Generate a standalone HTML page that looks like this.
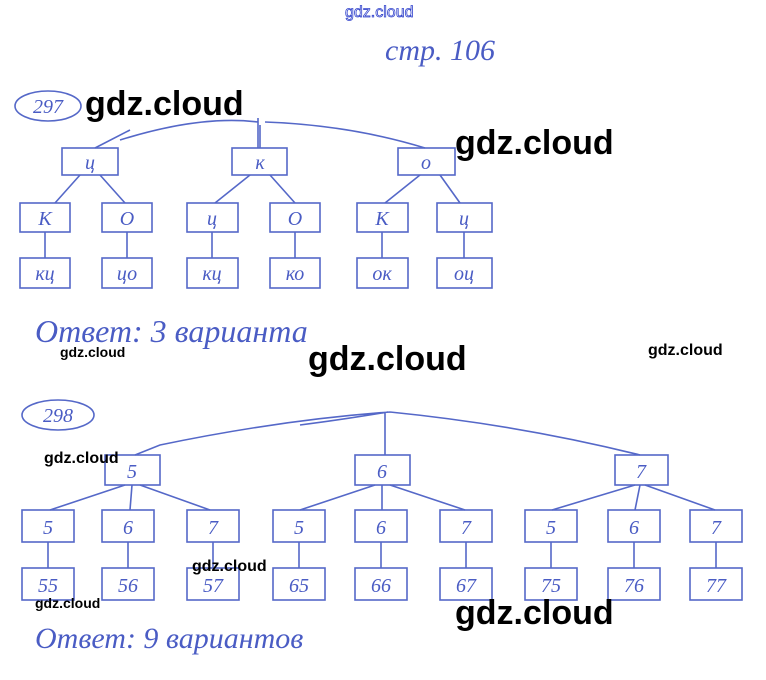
<!DOCTYPE html>
<html><head><meta charset="utf-8"><style>
html,body{margin:0;padding:0;background:#fff;}
svg{display:block;}
.h{font-family:"Liberation Serif",serif;font-style:italic;fill:#4a5cc4;}
.w{font-family:"Liberation Sans",sans-serif;font-weight:bold;fill:#000;}
</style></head><body>
<svg width="766" height="680" viewBox="0 0 766 680" xmlns="http://www.w3.org/2000/svg">
<rect width="766" height="680" fill="#fff"/>
<g stroke="#5568c8" stroke-width="1.6" fill="none">
<ellipse cx="48" cy="106" rx="33" ry="15"/>
<path d="M120 140 Q200 115 258 122 M258 118 L258 140 M265 122 Q350 125 425 148 M95 148 L130 130 M260 125 L260 148 M258 140 L258 148"/>
<rect x="62" y="148" width="56" height="27"/><rect x="232" y="148" width="55" height="27"/><rect x="398" y="148" width="57" height="27"/>
<path d="M80 175 L55 203 M100 175 L125 203 M250 175 L215 203 M270 175 L295 203 M420 175 L385 203 M440 175 L460 203"/>
<rect x="20" y="203" width="50" height="29"/><rect x="102" y="203" width="50" height="29"/><rect x="187" y="203" width="51" height="29"/><rect x="270" y="203" width="50" height="29"/><rect x="357" y="203" width="51" height="29"/><rect x="437" y="203" width="55" height="29"/>
<path d="M45 232 L45 258 M127 232 L127 258 M212 232 L212 258 M295 232 L295 258 M382 232 L382 258 M464 232 L464 258"/>
<rect x="20" y="258" width="50" height="30"/><rect x="102" y="258" width="50" height="30"/><rect x="187" y="258" width="51" height="30"/><rect x="270" y="258" width="50" height="30"/><rect x="357" y="258" width="51" height="30"/><rect x="437" y="258" width="55" height="30"/>
<ellipse cx="58" cy="415" rx="36" ry="15"/>
<path d="M135 455 L160 445 Q280 420 390 412 M390 412 Q520 425 640 455 M385 412 L385 455 M300 425 Q340 420 388 412"/>
<rect x="105" y="455" width="55" height="30"/><rect x="355" y="455" width="55" height="30"/><rect x="615" y="455" width="53" height="30"/>
<path d="M125 485 L50 510 M132 485 L130 510 M140 485 L210 510 M375 485 L300 510 M382 485 L382 510 M390 485 L465 510 M635 485 L552 510 M640 485 L635 510 M645 485 L715 510"/>
<rect x="22" y="510" width="52" height="32"/><rect x="102" y="510" width="52" height="32"/><rect x="187" y="510" width="52" height="32"/><rect x="273" y="510" width="52" height="32"/><rect x="355" y="510" width="52" height="32"/><rect x="440" y="510" width="52" height="32"/><rect x="525" y="510" width="52" height="32"/><rect x="608" y="510" width="52" height="32"/><rect x="690" y="510" width="52" height="32"/>
<path d="M48 542 L48 568 M128 542 L128 568 M213 542 L213 568 M299 542 L299 568 M381 542 L381 568 M466 542 L466 568 M551 542 L551 568 M634 542 L634 568 M716 542 L716 568"/>
<rect x="22" y="568" width="52" height="32"/><rect x="102" y="568" width="52" height="32"/><rect x="187" y="568" width="52" height="32"/><rect x="273" y="568" width="52" height="32"/><rect x="355" y="568" width="52" height="32"/><rect x="440" y="568" width="52" height="32"/><rect x="525" y="568" width="52" height="32"/><rect x="608" y="568" width="52" height="32"/><rect x="690" y="568" width="52" height="32"/>
</g>
<g class="h" font-size="20" text-anchor="middle">
<text x="48" y="113" font-size="20">297</text>
<text x="90" y="169">ц</text><text x="260" y="169">к</text><text x="426" y="169">о</text>
<text x="45" y="225">К</text><text x="127" y="225">О</text><text x="212" y="225">ц</text><text x="295" y="225">О</text><text x="382" y="225">К</text><text x="464" y="225">ц</text>
<text x="45" y="280">кц</text><text x="127" y="280">цо</text><text x="212" y="280">кц</text><text x="295" y="280">ко</text><text x="382" y="280">ок</text><text x="464" y="280">оц</text>
<text x="58" y="422">298</text>
<text x="132" y="478">5</text><text x="382" y="478">6</text><text x="641" y="478">7</text>
<text x="48" y="534">5</text><text x="128" y="534">6</text><text x="213" y="534">7</text><text x="299" y="534">5</text><text x="381" y="534">6</text><text x="466" y="534">7</text><text x="551" y="534">5</text><text x="634" y="534">6</text><text x="716" y="534">7</text>
<text x="48" y="592">55</text><text x="128" y="592">56</text><text x="213" y="592">57</text><text x="299" y="592">65</text><text x="381" y="592">66</text><text x="466" y="592">67</text><text x="551" y="592">75</text><text x="634" y="592">76</text><text x="716" y="592">77</text>
</g>
<text class="h" x="385" y="60" font-size="30">стр. 106</text>
<text class="h" x="35" y="342" font-size="32">Ответ: 3 варианта</text>
<text class="h" x="35" y="648" font-size="30">Ответ: 9 вариантов</text>
<text x="345" y="17" font-family="Liberation Sans,sans-serif" font-size="16" fill="#fff" stroke="#3344cc" stroke-width="0.8">gdz.cloud</text>
<g class="w">
<text x="85" y="115" font-size="34">gdz.cloud</text>
<text x="455" y="154" font-size="34">gdz.cloud</text>
<text x="308" y="370" font-size="34">gdz.cloud</text>
<text x="455" y="624" font-size="34">gdz.cloud</text>
<text x="60" y="357" font-size="14">gdz.cloud</text>
<text x="648" y="355" font-size="16">gdz.cloud</text>
<text x="44" y="463" font-size="16">gdz.cloud</text>
<text x="192" y="571" font-size="16">gdz.cloud</text>
<text x="35" y="608" font-size="14">gdz.cloud</text>
</g>
</svg>
</body></html>
